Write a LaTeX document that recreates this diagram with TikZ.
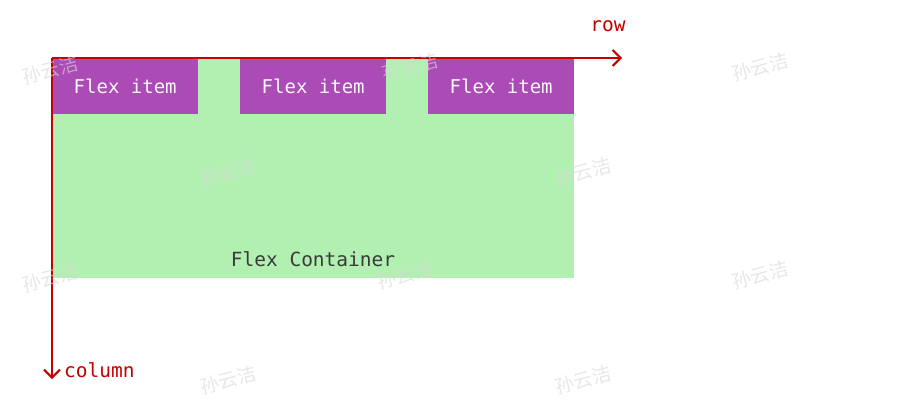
\documentclass[tikz,border=0pt]{standalone}
\usepackage{fontspec}
\newfontfamily\monofont{DejaVu Sans Mono}
\newfontfamily\cjk{Noto Sans CJK SC}
\usetikzlibrary{arrows.meta}
\definecolor{cgreen}{HTML}{B2F0B2}
\definecolor{cpurple}{HTML}{AA4BB6}
\definecolor{cred}{HTML}{C40000}
\definecolor{ctext}{HTML}{3A3A3A}
\definecolor{cwm}{HTML}{D8D8D8}
\tikzset{
  item/.style={fill=cpurple, draw=none, minimum width=146pt, minimum height=56pt, inner sep=0pt, anchor=north west,
    font=\monofont\fontsize{19}{21}\selectfont, text=white!95!cpurple},
  axis/.style={draw=cred, line width=2pt, -{Straight Barb[length=8pt,width=16pt,line width=2pt]}},
  axlabel/.style={text=cred, font=\monofont\fontsize{19.5}{21}\selectfont, inner sep=0pt},
  wm/.style={text=cwm, text opacity=0.6, font=\cjk\fontsize{19}{21}\selectfont, rotate=15, inner sep=0pt}
}
\begin{document}
\begin{tikzpicture}[x=1pt,y=-1pt]
\path[use as bounding box, fill=white] (0,0) rectangle (897,406);
\node[fill=cgreen, draw=none, minimum width=522pt, minimum height=220pt, inner sep=0pt, anchor=north west] (cont) at (52,58) {};
\node[item] (i1) at (52,58) {Flex item};
\node[item] (i2) at (240,58) {Flex item};
\node[item] (i3) at (428,58) {Flex item};
\node[text=ctext, font=\monofont\fontsize{19.5}{21}\selectfont, inner sep=0pt] (lbl) at (313,259) {Flex Container};
\coordinate (o) at (52,58);
\coordinate (rowend) at (622,58);
\coordinate (colend) at (52,379);
\draw[axis] (o) -- (rowend);
\draw[axis] (o) -- (colend);
\node[axlabel] (row) at (608,26) {row};
\node[axlabel, anchor=west] (col) at (64,370) {column};
% watermarks
\foreach \px/\py in {50/70,410/67,760/67,228/172,583/172,50/278,405/275,760/275,228/380,583/380}
  \node[wm] at (\px,\py) {孙云洁};
\end{tikzpicture}
\end{document}
